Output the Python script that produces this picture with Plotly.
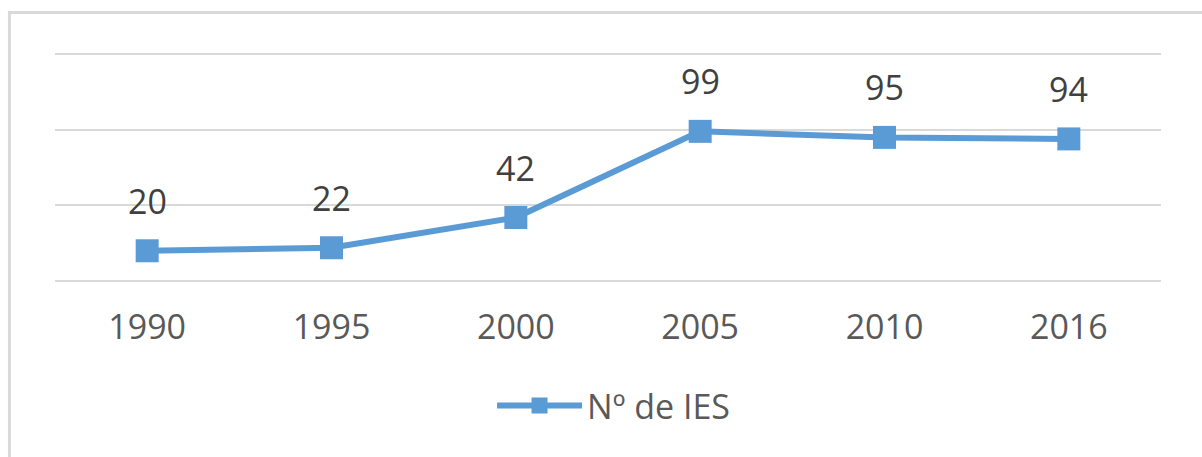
import plotly.graph_objects as go

years = ["1990", "1995", "2000", "2005", "2010", "2016"]
ies_count = [20, 22, 42, 99, 95, 94]
series_name = "Nº de IES"

LINE_COLOR = "#5B9BD5"
GRID_COLOR = "#D9D9D9"
FONT = "Open Sans, Liberation Sans, sans-serif"

positions = list(range(len(years)))

fig = go.Figure()
fig.add_trace(go.Scatter(
    x=positions, y=ies_count, name=series_name, mode="lines+markers",
    line=dict(color=LINE_COLOR, width=6),
    marker=dict(symbol="square", size=23, color=LINE_COLOR),
    customdata=years, hovertemplate="%{customdata}: %{y}<extra></extra>",
))

for pos, v in zip(positions, ies_count):
    fig.add_annotation(x=pos, y=v, xref="x", yref="y", text=str(v), showarrow=False,
                       yanchor="middle", yshift=50,
                       font=dict(family=FONT, size=34, color="#404040"))

# outer chart frame
fig.add_shape(type="rect", xref="paper", yref="paper",
              x0=-0.0412, x1=1.2, y0=-1.5, y1=1.172,
              line=dict(color=GRID_COLOR, width=3), layer="below")

fig.update_layout(
    width=1202, height=457,
    margin=dict(l=55, r=41, t=52, b=176),
    paper_bgcolor="white", plot_bgcolor="white",
    showlegend=True,
    legend=dict(orientation="h", x=0.505, xanchor="center", y=-0.545, yanchor="middle",
                font=dict(family=FONT, size=34, color="#595959"),
                itemwidth=85),
    font=dict(family=FONT, color="#595959"),
)
fig.update_xaxes(range=[-0.5, len(years) - 0.5], tickvals=positions, ticktext=years,
                 showgrid=False, zeroline=False,
                 showline=False, ticks="outside", ticklen=16, tickcolor="rgba(0,0,0,0)",
                 tickfont=dict(family=FONT, size=34, color="#595959"))
fig.update_yaxes(range=[0, 151.5], tickvals=[0, 50, 100, 150], showticklabels=False,
                 showgrid=True, gridcolor=GRID_COLOR, gridwidth=2,
                 zeroline=True, zerolinecolor=GRID_COLOR, zerolinewidth=2,
                 showline=False)

fig.write_html("out.html", config={"displayModeBar": False},
               post_script="document.body.style.margin='0';")
